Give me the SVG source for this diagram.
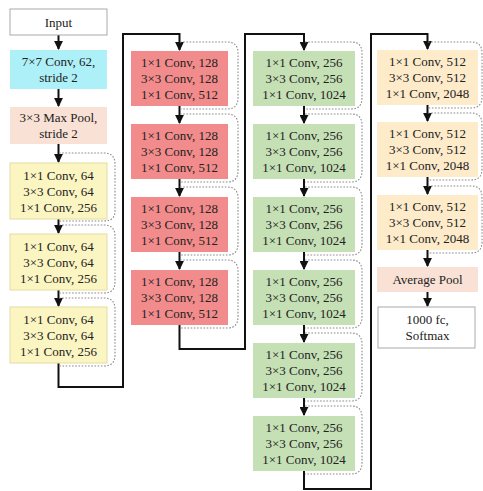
<svg xmlns="http://www.w3.org/2000/svg" width="483" height="491" viewBox="0 0 483 491">
<style>
text{font-family:"Liberation Serif","Times New Roman",serif;font-size:13px;fill:#222;text-anchor:middle}
.w{fill:#fff;stroke:#aaa;stroke-width:1}
.c{fill:#aef0f7}
.p{fill:#f9e1d5}
.y{fill:#fbf5c2;stroke:#e6dca0;stroke-width:1}
.r{fill:#f28b8b}
.g{fill:#c6e0b6}
.o{fill:#fdebca}
.main{fill:none;stroke:#111;stroke-width:2}
.skip{fill:none;stroke:#8a8a8a;stroke-width:1.1;stroke-dasharray:1.6,1.6}
</style>
<defs>
<marker id="ah" viewBox="0 0 10 10" refX="9" refY="5" markerWidth="4.5" markerHeight="4.5" orient="auto" markerUnits="strokeWidth">
<path d="M0,0 L10,5 L0,10 z" fill="#111"/>
</marker>
</defs>
<g id="connectors">
<path class="main" d="M58.5,35 V49" marker-end="url(#ah)"/>
<path class="main" d="M58.5,89 V106" marker-end="url(#ah)"/>
<path class="main" d="M58.5,144 V162" marker-end="url(#ah)"/>
<path class="main" d="M58.5,219 V233" marker-end="url(#ah)"/>
<path class="main" d="M58.5,290 V306" marker-end="url(#ah)"/>
<path class="main" d="M58.5,363 V387 H123 V34 H179.5 V50" marker-end="url(#ah)"/>
<path class="main" d="M179.5,106 V123" marker-end="url(#ah)"/>
<path class="main" d="M179.5,179 V196" marker-end="url(#ah)"/>
<path class="main" d="M179.5,252 V269" marker-end="url(#ah)"/>
<path class="main" d="M179.5,325 V349 H245 V34 H304 V50" marker-end="url(#ah)"/>
<path class="main" d="M304,106 V123" marker-end="url(#ah)"/>
<path class="main" d="M304,179 V196" marker-end="url(#ah)"/>
<path class="main" d="M304,252 V269" marker-end="url(#ah)"/>
<path class="main" d="M304,325 V342" marker-end="url(#ah)"/>
<path class="main" d="M304,398 V415" marker-end="url(#ah)"/>
<path class="main" d="M304,471 V489 H371 V34 H427.5 V49" marker-end="url(#ah)"/>
<path class="main" d="M427.5,105 V121" marker-end="url(#ah)"/>
<path class="main" d="M427.5,177 V194" marker-end="url(#ah)"/>
<path class="main" d="M427.5,250 V266" marker-end="url(#ah)"/>
<path class="main" d="M427.5,292 V306" marker-end="url(#ah)"/>
<path class="skip" d="M59,153 H104 Q115,153 115,164 V211 Q115,221 104,221 H59"/>
<path class="skip" d="M59,225 H104 Q115,225 115,236 V282 Q115,293 104,293 H59"/>
<path class="skip" d="M59,298 H104 Q115,298 115,309 V355 Q115,366 104,366 H59"/>
<path class="skip" d="M180,42 H227 Q238,42 238,53 V98 Q238,109 227,109 H180"/>
<path class="skip" d="M180,114 H227 Q238,114 238,125 V171 Q238,182 227,182 H180"/>
<path class="skip" d="M180,187 H227 Q238,187 238,198 V244 Q238,255 227,255 H180"/>
<path class="skip" d="M180,260 H227 Q238,260 238,271 V317 Q238,328 227,328 H180"/>
<path class="skip" d="M305,42 H351 Q362,42 362,53 V98 Q362,109 351,109 H305"/>
<path class="skip" d="M305,114 H351 Q362,114 362,125 V171 Q362,182 351,182 H305"/>
<path class="skip" d="M305,187 H351 Q362,187 362,198 V244 Q362,255 351,255 H305"/>
<path class="skip" d="M305,260 H351 Q362,260 362,271 V317 Q362,328 351,328 H305"/>
<path class="skip" d="M305,333 H351 Q362,333 362,344 V390 Q362,401 351,401 H305"/>
<path class="skip" d="M305,406 H351 Q362,406 362,417 V463 Q362,474 351,474 H305"/>
<path class="skip" d="M428,42 H471 Q482,42 482,53 V97 Q482,108 471,108 H428"/>
<path class="skip" d="M428,113 H471 Q482,113 482,124 V169 Q482,180 471,180 H428"/>
<path class="skip" d="M428,186 H471 Q482,186 482,197 V242 Q482,253 471,253 H428"/>
</g>
<g id="input"><rect class="w" x="10" y="9" width="97" height="26"/><text x="58.5" y="26.5">Input</text></g>
<g id="conv7"><rect class="c" x="10" y="50" width="97" height="39"/><text x="58.5" y="66">7×7 Conv, 62,</text><text x="58.5" y="82">stride 2</text></g>
<g id="maxpool"><rect class="p" x="10" y="107" width="97" height="37"/><text x="58.5" y="122">3×3 Max Pool,</text><text x="58.5" y="138">stride 2</text></g>
<g id="y1"><rect class="y" x="10" y="163" width="97" height="56"/><text x="58.5" y="179.5">1×1 Conv, 64</text><text x="58.5" y="195.5">3×3 Conv, 64</text><text x="58.5" y="211.5">1×1 Conv, 256</text></g>
<g id="y2"><rect class="y" x="10" y="234" width="97" height="56"/><text x="58.5" y="250.5">1×1 Conv, 64</text><text x="58.5" y="266.5">3×3 Conv, 64</text><text x="58.5" y="282.5">1×1 Conv, 256</text></g>
<g id="y3"><rect class="y" x="10" y="307" width="97" height="56"/><text x="58.5" y="323.5">1×1 Conv, 64</text><text x="58.5" y="339.5">3×3 Conv, 64</text><text x="58.5" y="355.5">1×1 Conv, 256</text></g>
<g id="r1"><rect class="r" x="131" y="51" width="97" height="55"/><text x="179.5" y="67">1×1 Conv, 128</text><text x="179.5" y="83">3×3 Conv, 128</text><text x="179.5" y="99">1×1 Conv, 512</text></g>
<g id="r2"><rect class="r" x="131" y="124" width="97" height="55"/><text x="179.5" y="140">1×1 Conv, 128</text><text x="179.5" y="156">3×3 Conv, 128</text><text x="179.5" y="172">1×1 Conv, 512</text></g>
<g id="r3"><rect class="r" x="131" y="197" width="97" height="55"/><text x="179.5" y="213">1×1 Conv, 128</text><text x="179.5" y="229">3×3 Conv, 128</text><text x="179.5" y="245">1×1 Conv, 512</text></g>
<g id="r4"><rect class="r" x="131" y="270" width="97" height="55"/><text x="179.5" y="286">1×1 Conv, 128</text><text x="179.5" y="302">3×3 Conv, 128</text><text x="179.5" y="318">1×1 Conv, 512</text></g>
<g id="g1"><rect class="g" x="253" y="51" width="102" height="55"/><text x="304" y="67">1×1 Conv, 256</text><text x="304" y="83">3×3 Conv, 256</text><text x="304" y="99">1×1 Conv, 1024</text></g>
<g id="g2"><rect class="g" x="253" y="124" width="102" height="55"/><text x="304" y="140">1×1 Conv, 256</text><text x="304" y="156">3×3 Conv, 256</text><text x="304" y="172">1×1 Conv, 1024</text></g>
<g id="g3"><rect class="g" x="253" y="197" width="102" height="55"/><text x="304" y="213">1×1 Conv, 256</text><text x="304" y="229">3×3 Conv, 256</text><text x="304" y="245">1×1 Conv, 1024</text></g>
<g id="g4"><rect class="g" x="253" y="270" width="102" height="55"/><text x="304" y="286">1×1 Conv, 256</text><text x="304" y="302">3×3 Conv, 256</text><text x="304" y="318">1×1 Conv, 1024</text></g>
<g id="g5"><rect class="g" x="253" y="343" width="102" height="55"/><text x="304" y="359">1×1 Conv, 256</text><text x="304" y="375">3×3 Conv, 256</text><text x="304" y="391">1×1 Conv, 1024</text></g>
<g id="g6"><rect class="g" x="253" y="416" width="102" height="55"/><text x="304" y="432">1×1 Conv, 256</text><text x="304" y="448">3×3 Conv, 256</text><text x="304" y="464">1×1 Conv, 1024</text></g>
<g id="o1"><rect class="o" x="377" y="50" width="101" height="55"/><text x="427.5" y="66">1×1 Conv, 512</text><text x="427.5" y="82">3×3 Conv, 512</text><text x="427.5" y="98">1×1 Conv, 2048</text></g>
<g id="o2"><rect class="o" x="377" y="122" width="101" height="55"/><text x="427.5" y="138">1×1 Conv, 512</text><text x="427.5" y="154">3×3 Conv, 512</text><text x="427.5" y="170">1×1 Conv, 2048</text></g>
<g id="o3"><rect class="o" x="377" y="195" width="101" height="55"/><text x="427.5" y="211">1×1 Conv, 512</text><text x="427.5" y="227">3×3 Conv, 512</text><text x="427.5" y="243">1×1 Conv, 2048</text></g>
<g id="avgpool"><rect class="p" x="377" y="267" width="101" height="25"/><text x="427.5" y="284">Average Pool</text></g>
<g id="fc"><rect class="w" x="378" y="307" width="97" height="41"/><text x="427.5" y="324">1000 fc,</text><text x="427.5" y="340">Softmax</text></g>
</svg>
